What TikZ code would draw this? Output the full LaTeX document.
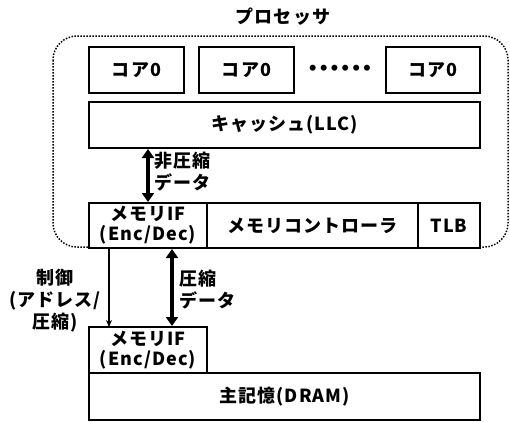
\documentclass[tikz,border=0pt]{standalone}
\usepackage{fontspec}
\setmainfont{Noto Sans CJK JP}[LetterSpace=6]
\newfontfamily\dotfont{DejaVu Sans}
\usetikzlibrary{arrows.meta}
\tikzset{
  box/.style={draw, line width=1.7pt, fill=white, inner sep=0pt, font=\bfseries\fontsize{18}{20}\selectfont, align=center},
  lbl/.style={inner sep=0pt, font=\bfseries\fontsize{18}{22}\selectfont},
  thick arrow/.style={line width=3.8pt, {Triangle[width=12pt,length=9pt]}-{Triangle[width=12pt,length=9pt]}, shorten <=1pt, shorten >=1pt},
  thin arrow/.style={line width=1.1pt, -{Stealth[width=6pt,length=7pt]}},
  proc/.style={draw, dash pattern=on 1.5pt off 1.5pt, line width=1.5pt, rounded corners=24pt}
}
\begin{document}
\begin{tikzpicture}[x=1pt,y=-1pt]
\useasboundingbox (0,0) rectangle (510,421);
\node[lbl] (title) at (283,17) {プロセッサ};
\draw[proc] (53,36) rectangle (508,247);
\node[box, minimum width=95pt, minimum height=46pt] (c1) at (136.5,70) {コア0};
\node[box, minimum width=95pt, minimum height=46pt] (c2) at (246.5,70) {コア0};
\node[inner sep=0pt, font=\dotfont\bfseries\fontsize{17}{18}\selectfont] (dots) at (340,70) {••••••};
\node[box, minimum width=94pt, minimum height=46pt] (c3) at (433,70) {コア0};
\node[box, minimum width=391pt, minimum height=46pt] (llc) at (284.5,125) {キャッシュ(LLC)};
\node[box, minimum width=118pt, minimum height=45pt] (mif) at (148,225.5) {メモリIF\\(Enc/Dec)};
\node[box, minimum width=211pt, minimum height=45pt] (mc) at (312.5,225.5) {メモリコントローラ};
\node[box, minimum width=62pt, minimum height=45pt] (tlb) at (449,225.5) {TLB};
\node[box, minimum width=118pt, minimum height=46pt] (lmif) at (148,350) {メモリIF\\(Enc/Dec)};
\node[box, minimum width=391pt, minimum height=47pt] (dram) at (284.5,396.5) {主記憶(DRAM)};
\coordinate (a1s) at (148,148);
\coordinate (a1e) at (148,203);
\draw[thick arrow] (a1s) -- (a1e);
\node[lbl, anchor=west, align=left] (l1) at (154,172) {非圧縮\\データ};
\coordinate (a2s) at (109,248);
\coordinate (a2e) at (109,327);
\draw[thin arrow] (a2s) -- (a2e);
\coordinate (a3s) at (172,248);
\coordinate (a3e) at (172,327);
\draw[thick arrow] (a3s) -- (a3e);
\node[lbl, anchor=west, align=left] (l2) at (179,290) {圧縮\\データ};
\node[lbl, align=center] (l3) at (55,301) {制御\\(アドレス/\\圧縮)};
\end{tikzpicture}
\end{document}
